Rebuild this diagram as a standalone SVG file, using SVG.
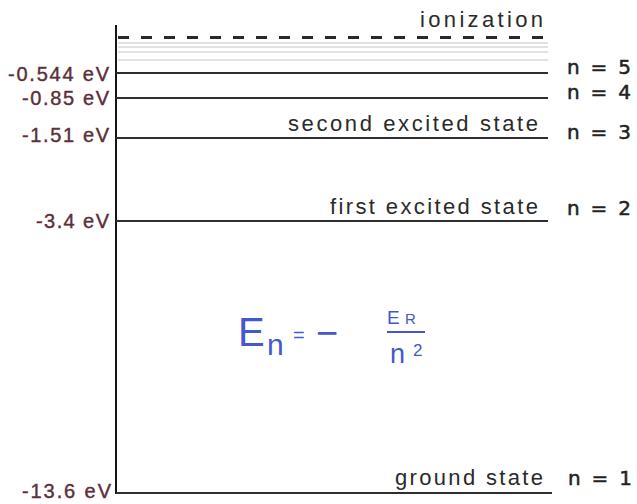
<svg xmlns="http://www.w3.org/2000/svg" width="637" height="504" viewBox="0 0 637 504">
<style>
.lvl{stroke:#2e2e2e;stroke-width:2;fill:none}
.faint{stroke:#c4c4c4;stroke-width:1;fill:none}
.ev{font-family:"Liberation Sans",Arial,sans-serif;font-size:20px;fill:#5c2f3a;stroke:#5c2f3a;stroke-width:0.4;text-anchor:end}
.nq{font-family:"DejaVu Sans",sans-serif;font-size:20px;fill:#222;stroke:#222;stroke-width:0.5}
.st{font-family:"Liberation Sans",Arial,sans-serif;font-size:22px;fill:#2a2a2a}
.hw{font-family:"Liberation Sans",sans-serif;fill:#4656cc}
</style>
<rect width="637" height="504" fill="#ffffff"/>
<g id="connectors">
<line id="axis" x1="116" y1="25" x2="116" y2="494" stroke="#151515" stroke-width="2"/>
</g>
<g id="ionization">
<line x1="118" y1="37.5" x2="548" y2="37.5" stroke="#2a2a2a" stroke-width="3" stroke-dasharray="11 12"/>
<line class="faint" x1="118" y1="43" x2="548" y2="43"/>
<line class="faint" x1="118" y1="47" x2="548" y2="47"/>
<line class="faint" x1="118" y1="52" x2="548" y2="52"/>
<line class="faint" x1="118" y1="60" x2="548" y2="60"/>
<text class="st" x="420" y="27" textLength="123" lengthAdjust="spacing">ionization</text>
</g>
<g id="n5">
<line class="lvl" x1="116" y1="73" x2="548" y2="73"/>
<text class="ev" x="109" y="81" textLength="101" lengthAdjust="spacing">-0.544 eV</text>
<text class="nq" x="567" y="74" textLength="64" lengthAdjust="spacing">n = 5</text>
</g>
<g id="n4">
<line class="lvl" x1="116" y1="98" x2="548" y2="98"/>
<text class="ev" x="109" y="105" textLength="87" lengthAdjust="spacing">-0.85 eV</text>
<text class="nq" x="567" y="99" textLength="64" lengthAdjust="spacing">n = 4</text>
</g>
<g id="n3">
<line class="lvl" x1="116" y1="138" x2="548" y2="138"/>
<text class="ev" x="109" y="142" textLength="87" lengthAdjust="spacing">-1.51 eV</text>
<text class="st" x="288" y="131" textLength="250" lengthAdjust="spacing">second excited state</text>
<text class="nq" x="567" y="139" textLength="64" lengthAdjust="spacing">n = 3</text>
</g>
<g id="n2">
<line class="lvl" x1="116" y1="221" x2="548" y2="221"/>
<text class="ev" x="109" y="228" textLength="73" lengthAdjust="spacing">-3.4 eV</text>
<text class="st" x="330" y="214" textLength="208" lengthAdjust="spacing">first excited state</text>
<text class="nq" x="567" y="215" textLength="64" lengthAdjust="spacing">n = 2</text>
</g>
<g id="n1">
<line class="lvl" x1="116" y1="493" x2="552" y2="493"/>
<text class="ev" x="111" y="498" textLength="89" lengthAdjust="spacing">-13.6 eV</text>
<text class="st" x="395" y="485" textLength="148" lengthAdjust="spacing">ground state</text>
<text class="nq" x="568" y="485" textLength="64" lengthAdjust="spacing">n = 1</text>
</g>
<g id="formula">
<text class="hw" x="238" y="346" font-size="40">E</text>
<text class="hw" x="267" y="355" font-size="30">n</text>
<text class="hw" x="293" y="342" font-size="20">=</text>
<text class="hw" x="316" y="346" font-size="38">−</text>
<text class="hw" x="387" y="324" font-size="19">E</text>
<text class="hw" x="405" y="324" font-size="15">R</text>
<line x1="387" y1="332" x2="425" y2="332" stroke="#4656cc" stroke-width="2"/>
<text class="hw" x="390" y="363" font-size="27">n</text>
<text class="hw" x="413" y="356" font-size="17">2</text>
</g>
</svg>
